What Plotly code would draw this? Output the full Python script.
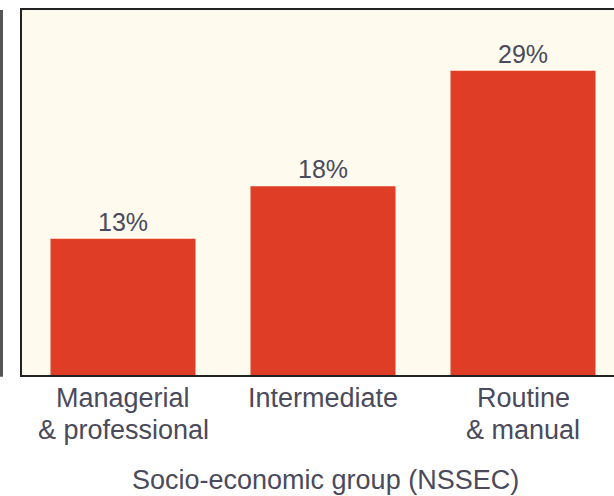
import plotly.graph_objects as go

categories = ["Managerial", "Intermediate", "Routine"]
categories_line2 = ["& professional", "", "& manual"]
values = [13, 18, 29]
bar_labels = ["13%", "18%", "29%"]
x_title = "Socio-economic group (NSSEC)"

W, H = 614, 496
ml, mt, mb, mr = 22, 10, 121, 0
pw = W - ml - mr
TXT = "#4a4a5c"
FONT = "Liberation Sans, Arial, sans-serif"

fig = go.Figure()
fig.add_trace(go.Bar(
    x=list(range(len(categories))),
    y=values,
    text=bar_labels,
    textposition="outside",
    textfont=dict(family=FONT, size=25, color=TXT),
    marker=dict(color="#e03d26", line=dict(width=0)),
    width=0.725,
    cliponaxis=False,
))

annotations = []
for i, (l1, l2) in enumerate(zip(categories, categories_line2)):
    annotations.append(dict(x=i, y=0, xref="x", yref="paper", text=l1, showarrow=False,
                            xanchor="center", yanchor="middle", yshift=-23,
                            font=dict(family=FONT, size=27, color=TXT)))
    if l2:
        annotations.append(dict(x=i, y=0, xref="x", yref="paper", text=l2, showarrow=False,
                                xanchor="center", yanchor="middle", yshift=-55,
                                font=dict(family=FONT, size=27, color=TXT)))
annotations.append(dict(x=0.5, y=0, xref="paper", yref="paper", text=x_title, showarrow=False,
                        xanchor="center", yanchor="middle", yshift=-105, xshift=7,
                        font=dict(family=FONT, size=27, color=TXT)))

fig.update_layout(
    width=W, height=H,
    margin=dict(l=ml, r=mr, t=mt, b=mb, pad=0),
    paper_bgcolor="white",
    plot_bgcolor="#fefaee",
    showlegend=False,
    font=dict(family=FONT, size=27, color=TXT),
    xaxis=dict(
        range=[-0.505, 2.455],
        showline=True, linecolor="#222222", linewidth=2, mirror=True,
        showticklabels=False, ticks="", showgrid=False, zeroline=False,
    ),
    yaxis=dict(
        range=[0, 34.8],
        showline=True, linecolor="#222222", linewidth=2, mirror=False,
        showticklabels=False, ticks="", showgrid=False, zeroline=False,
    ),
    annotations=annotations,
    shapes=[dict(
        type="line", xref="paper", yref="paper",
        x0=-20.5 / pw, x1=-20.5 / pw, y0=-0.005, y1=1.0,
        line=dict(color="#555555", width=3),
    )],
)

fig.write_html("out.html", config={"displayModeBar": False},
               post_script="document.body.style.margin='0';document.body.style.overflow='hidden';")
